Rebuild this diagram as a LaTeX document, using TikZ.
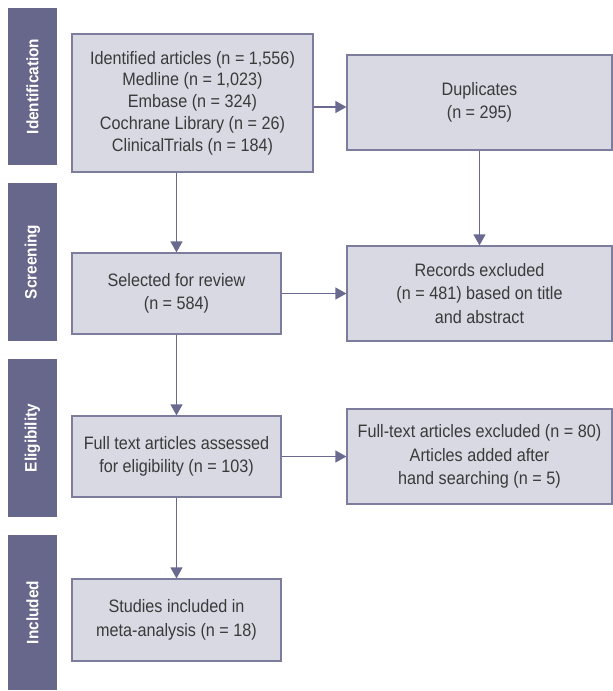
\documentclass[tikz,border=0pt]{standalone}
\usepackage{fontspec}
\setmainfont{Liberation Sans}[FakeStretch=0.9]
\newfontfamily\barfont{Liberation Sans}[FakeStretch=0.93]
\usetikzlibrary{arrows.meta}
\definecolor{barcol}{HTML}{67678B}
\definecolor{boxfill}{HTML}{D9D9E3}
\definecolor{boxline}{HTML}{7C7C9C}
\definecolor{arrcol}{HTML}{6A6A90}
\definecolor{txtcol}{HTML}{3A3A3A}
\tikzset{
  flowbox/.style={draw=boxline, fill=boxfill, line width=1.2pt, inner sep=0pt,
    align=center, text=txtcol, font=\fontsize{18}{23.5}\selectfont},
  sidebar/.style={fill=barcol, inner sep=0pt, minimum height=49pt, text=white,
    font=\barfont\bfseries\fontsize{16.5}{19}\selectfont, rotate=90},
  flowarrow/.style={draw=arrcol, line width=1.2pt, -{Triangle[width=12pt,length=11pt]}}
}
\begin{document}
\begin{tikzpicture}[x=1pt,y=-1pt]
\useasboundingbox (0,0) rectangle (613,691);
% side bars
\node[sidebar, minimum width=157pt] (sid) at (32.5,86.5) {Identification};
\node[sidebar, minimum width=158pt] (ssc) at (32.5,262) {Screening};
\node[sidebar, minimum width=158pt] (sel) at (32.5,438) {Eligibility};
\node[sidebar, minimum width=155pt] (sinc) at (32.5,612.5) {Included};
% boxes
\node[flowbox, minimum width=241pt, minimum height=138pt, font=\fontsize{18}{21.7}\selectfont] (ident) at (192.5,103)
  {Identified articles (n = 1,556)\\Medline (n = 1,023)\\Embase (n = 324)\\Cochrane Library (n = 26)\\ClinicalTrials (n = 184)};
\node[flowbox, minimum width=265pt, minimum height=95pt] (dup) at (479.5,102.5)
  {Duplicates\\(n = 295)};
\node[flowbox, minimum width=209pt, minimum height=81pt] (selrev) at (176.5,293.5)
  {Selected for review\\(n = 584)};
\node[flowbox, minimum width=265pt, minimum height=95pt] (recex) at (479.5,293.5)
  {Records excluded\\(n = 481) based on title\\and abstract};
\node[flowbox, minimum width=209pt, minimum height=81pt] (full) at (176.5,456.5)
  {Full text articles assessed\\for eligibility (n = 103)};
\node[flowbox, minimum width=265pt, minimum height=95pt] (fullex) at (479.5,456.5)
  {Full-text articles excluded (n = 80)\\Articles added after\\hand searching (n = 5)};
\node[flowbox, minimum width=209pt, minimum height=82pt] (stud) at (176.5,620)
  {Studies included in\\meta-analysis (n = 18)};
% arrows
\draw[flowarrow] (ident.south -| selrev.north) -- (selrev.north);
\draw[flowarrow] ([yshift=-4pt]ident.east) -- ([yshift=-4pt]ident.east -| dup.west);
\draw[flowarrow] (dup.south) -- (recex.north);
\draw[flowarrow] (selrev.east) -- (recex.west);
\draw[flowarrow] (selrev.south) -- (full.north);
\draw[flowarrow] (full.east) -- (fullex.west);
\draw[flowarrow] (full.south) -- (stud.north);
\end{tikzpicture}
\end{document}
